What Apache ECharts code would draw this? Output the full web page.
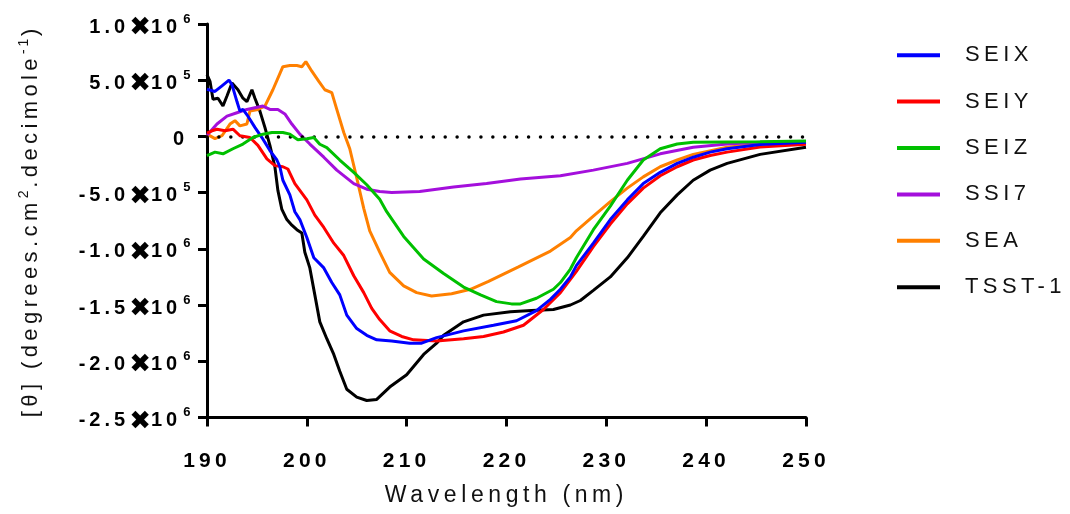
<!DOCTYPE html>
<html>
<head>
<meta charset="utf-8">
<script src="https://cdn.jsdelivr.net/npm/echarts@6/dist/echarts.min.js"></script>
<style>
html,body{margin:0;padding:0;background:#fff;}
#chart{width:1070px;height:514px;}
</style>
</head>
<body>
<div id="chart"></div>
<script>
// ---------- data (values in units of 1e5 degrees.cm2.decimole-1) ----------
const seriesNames = ['SEIX', 'SEIY', 'SEIZ', 'SSI7', 'SEA', 'TSST-1'];
const seriesColors = ['#0000ff', '#ff0000', '#00c000', '#a40fdc', '#ff8000', '#000000'];

const seixX = [190.0,190.8,191.5,192.2,192.5,193.0,193.3,193.6,194.1,194.8,195.5,196.3,197.0,197.3,197.6,198.3,198.8,199.3,200.0,200.7,201.7,202.5,203.3,204.0,205.0,206.0,207.0,208.5,210.3,211.5,213.0,215.7,218.7,221.0,223.0,224.4,225.4,226.4,227.0,228.7,230.4,232.1,233.7,235.4,237.1,238.7,240.4,242.1,245.4,250.0];
const seixY = [4.2,4.0,4.5,5.0,4.6,3.1,2.25,2.4,1.8,0.8,-0.1,-1.26,-2.1,-2.7,-3.9,-5.2,-6.7,-7.4,-9.0,-10.8,-11.7,-13.0,-14.1,-15.9,-17.1,-17.7,-18.1,-18.2,-18.4,-18.4,-17.9,-17.3,-16.8,-16.4,-15.5,-14.5,-13.6,-12.5,-11.5,-9.5,-7.4,-5.65,-4.2,-3.2,-2.4,-1.85,-1.4,-1.1,-0.73,-0.53];

const seiyX = [190.0,190.5,191.0,191.8,192.6,193.3,194.3,195.1,196.0,196.8,197.6,198.1,198.8,200.0,200.8,201.7,202.7,203.7,204.7,205.7,206.5,207.3,208.3,209.5,210.7,213.0,215.7,217.7,219.7,221.7,223.7,225.4,227.0,228.7,230.4,232.1,233.7,235.4,237.1,238.7,240.4,242.1,245.4,250.0];
const seiyY = [0.3,0.5,0.64,0.5,0.64,0.06,-0.1,-0.8,-2.0,-2.6,-2.7,-2.9,-4.2,-5.65,-7.0,-8.1,-9.5,-10.6,-12.4,-13.9,-15.3,-16.3,-17.3,-17.8,-18.1,-18.2,-18.0,-17.8,-17.4,-16.8,-15.4,-13.9,-12.0,-9.8,-7.8,-6.0,-4.6,-3.5,-2.7,-2.1,-1.7,-1.4,-0.95,-0.7];

const seizX = [190.0,190.8,191.6,192.6,193.6,194.6,195.6,196.5,197.6,198.3,199.1,200.0,200.7,201.3,202.0,203.3,204.7,206.0,207.3,208.0,209.7,211.7,213.7,215.7,217.4,219.0,220.5,221.4,223.0,224.7,225.4,226.4,227.0,228.7,230.4,232.1,233.7,235.4,237.1,238.7,242.1,245.4,250.0];
const seizY = [-1.7,-1.4,-1.55,-1.1,-0.68,-0.1,0.2,0.35,0.35,0.2,-0.3,-0.2,-0.1,-0.7,-1.0,-2.1,-3.2,-4.3,-5.6,-6.7,-8.9,-10.9,-12.2,-13.4,-14.1,-14.7,-14.9,-14.9,-14.4,-13.6,-13.0,-11.8,-10.8,-8.3,-6.2,-3.9,-2.1,-1.1,-0.68,-0.53,-0.5,-0.47,-0.4];

const ssi7X = [190.0,191.0,192.0,193.0,194.0,194.8,195.6,196.3,197.1,197.8,198.5,199.3,200.3,201.7,203.0,204.7,206.0,207.3,208.5,211.3,214.7,218.0,221.4,225.4,228.7,232.1,235.4,238.7,242.1,245.4,250.0];
const ssi7Y = [0.1,1.1,1.8,2.1,2.4,2.55,2.7,2.4,2.4,2.0,1.1,0.2,-0.68,-1.85,-3.0,-4.2,-4.7,-4.9,-5.0,-4.9,-4.5,-4.2,-3.8,-3.5,-3.0,-2.4,-1.55,-0.97,-0.68,-0.53,-0.45];

const seaX = [190.0,190.8,191.5,192.3,192.8,193.3,194.0,194.3,195.1,195.8,196.6,197.6,198.3,199.0,199.5,199.9,200.5,201.2,201.8,202.5,203.0,203.7,204.3,205.0,205.7,206.3,207.3,208.3,209.7,211.0,212.5,214.5,216.4,218.2,221.2,224.4,225.4,226.4,227.0,228.7,230.4,232.1,233.7,235.4,237.1,238.7,242.1,245.4,250.0];
const seaY = [0.2,-0.2,0.06,1.1,1.4,0.94,1.1,2.25,2.4,2.7,4.15,6.2,6.3,6.3,6.2,6.65,5.8,4.9,4.15,3.9,2.4,0.35,-1.1,-3.7,-6.4,-8.4,-10.3,-12.1,-13.3,-13.9,-14.2,-14.0,-13.6,-12.9,-11.6,-10.2,-9.6,-9.0,-8.4,-7.1,-5.8,-4.6,-3.6,-2.7,-2.1,-1.6,-0.97,-0.68,-0.45];

const tsstX = [190.0,190.3,190.6,191.1,191.6,192.0,192.5,193.1,193.6,194.0,194.5,194.8,195.3,195.8,196.3,196.8,197.1,197.5,198.0,198.5,199.0,199.5,199.8,200.3,200.8,201.3,202.0,202.7,203.3,204.0,205.0,206.0,207.0,208.3,210.0,211.7,213.0,213.7,215.7,217.7,220.4,222.5,224.7,226.4,227.4,228.7,230.4,232.1,233.7,235.4,237.1,238.7,240.4,242.1,245.4,250.0];
const tsstY = [5.5,4.9,3.3,3.4,2.7,3.6,4.75,4.15,3.4,3.1,4.15,3.4,2.25,0.8,-0.8,-2.7,-4.8,-6.5,-7.4,-7.9,-8.3,-8.6,-10.3,-11.7,-14.1,-16.5,-18.0,-19.4,-20.9,-22.5,-23.2,-23.5,-23.4,-22.3,-21.2,-19.4,-18.4,-17.7,-16.5,-15.9,-15.6,-15.5,-15.4,-15.0,-14.6,-13.7,-12.5,-10.8,-8.9,-6.8,-5.2,-3.9,-3.0,-2.4,-1.6,-0.97];

const yTickValues = [-25, -20, -15, -10, -5, 0, 5, 10];
const yTickMantissa = ['-2.5', '-2.0', '-1.5', '-1.0', '-5.0', '0', '5.0', '1.0'];
const yTickExponent = ['6', '6', '6', '6', '5', '', '5', '6'];
const xTickLabels = ['190', '200', '210', '220', '230', '240', '250'];

// ---------- letter spacing support (canvas) ----------
function spacingFor(font) {
  if (/DejaVu/.test(font || '')) return '0px';
  const m = /(\d+(?:\.\d+)?)px/.exec(font || '');
  const size = m ? parseFloat(m[1]) : 12;
  return (size * 0.2).toFixed(2) + 'px';
}
try {
  const mctx = document.createElement('canvas').getContext('2d');
  echarts.setPlatformAPI({
    measureText: function (text, font) {
      mctx.font = font || '12px sans-serif';
      mctx.letterSpacing = spacingFor(mctx.font);
      return mctx.measureText(text);
    }
  });
  const origFill = CanvasRenderingContext2D.prototype.fillText;
  CanvasRenderingContext2D.prototype.fillText = function () {
    this.letterSpacing = spacingFor(this.font);
    return origFill.apply(this, arguments);
  };
} catch (e) {}

// ---------- build ----------
const FONT = "'Liberation Sans', Arial, sans-serif";
const dataSets = {
  'SEIX': [seixX, seixY], 'SEIY': [seiyX, seiyY], 'SEIZ': [seizX, seizY],
  'SSI7': [ssi7X, ssi7Y], 'SEA': [seaX, seaY], 'TSST-1': [tsstX, tsstY]
};
const drawOrder = ['TSST-1', 'SEA', 'SSI7', 'SEIY', 'SEIX', 'SEIZ'];

const series = drawOrder.map(function (name, k) {
  const xs = dataSets[name][0], ys = dataSets[name][1];
  const col = seriesColors[seriesNames.indexOf(name)];
  const s = {
    name: name,
    type: 'line',
    showSymbol: false,
    symbol: 'none',
    data: xs.map(function (x, i) { return [x, ys[i]]; }),
    lineStyle: { width: 3, color: col },
    itemStyle: { color: col },
    z: 2 + k
  };
  if (k === 0) {
    s.markLine = {
      silent: true,
      symbol: ['none', 'none'],
      label: { show: false },
      lineStyle: { color: '#000', width: 3.5, type: [0.01, 11.9], cap: 'round' },
      data: [{ yAxis: 0 }]
    };
  }
  return s;
});

const chart = echarts.init(document.getElementById('chart'), null, { renderer: 'canvas' });
chart.setOption({
  animation: false,
  backgroundColor: '#fff',
  grid: { left: 207, right: 264, top: 24, bottom: 90, containLabel: false },
  legend: {
    data: seriesNames,
    orient: 'vertical',
    left: 892,
    top: 37,
    icon: 'rect',
    itemWidth: 43,
    itemHeight: 4,
    itemGap: 20,
    textStyle: { fontFamily: FONT, fontSize: 22, color: '#111', padding: [0, 0, 0, 20], lineHeight: 22 }
  },
  xAxis: {
    type: 'value',
    min: 190, max: 250, interval: 10,
    name: 'Wavelength (nm)',
    nameLocation: 'middle',
    nameGap: 64,
    nameTextStyle: { fontFamily: FONT, fontSize: 23, color: '#111' },
    axisLine: { show: true, onZero: false, lineStyle: { color: '#000', width: 3 } },
    axisTick: { show: true, length: 9, lineStyle: { color: '#000', width: 3 } },
    axisLabel: {
      margin: 31, fontFamily: FONT, fontSize: 21, fontWeight: 'bold', color: '#000',
      formatter: function (v) { return xTickLabels[Math.round((v - 190) / 10)] || ''; }
    },
    splitLine: { show: false }
  },
  yAxis: {
    type: 'value',
    min: -25, max: 10, interval: 5,
    name: '{t|[θ] (degrees.cm}{s|2}{t|.decimole}{s|-1}{t|)}',
    nameLocation: 'middle',
    nameRotate: 90,
    nameGap: 161,
    nameTextStyle: {
      rich: {
        t: { fontFamily: FONT, fontSize: 22, color: '#111' },
        s: { fontFamily: FONT, fontSize: 14, color: '#111', padding: [0, 0, 13, 0] }
      }
    },
    axisLine: { show: true, lineStyle: { color: '#000', width: 3 } },
    axisTick: { show: true, length: 9, lineStyle: { color: '#000', width: 3 } },
    axisLabel: {
      margin: 14,
      formatter: function (v) {
        const i = yTickValues.indexOf(Math.round(v));
        if (i < 0) return '';
        if (yTickExponent[i] === '') return '{z|' + yTickMantissa[i] + '}';
        return '{m|' + yTickMantissa[i] + '}{x|✖}{m|10}{s|' + yTickExponent[i] + '}';
      },
      rich: {
        m: { fontFamily: FONT, fontSize: 20, fontWeight: 'bold', color: '#000', padding: [6, 0, 0, 0] },
        z: { fontFamily: FONT, fontSize: 20, fontWeight: 'bold', color: '#000', padding: [6, 5, 0, 0] },
        x: { fontFamily: "'DejaVu Sans'", fontSize: 26, fontWeight: 'bold', color: '#000', padding: [9, 0, 0, 0] },
        s: { fontFamily: FONT, fontSize: 13, fontWeight: 'bold', color: '#000', padding: [0, 0, 10, 2] }
      }
    },
    splitLine: { show: false }
  },
  series: series
});
</script>
</body>
</html>
